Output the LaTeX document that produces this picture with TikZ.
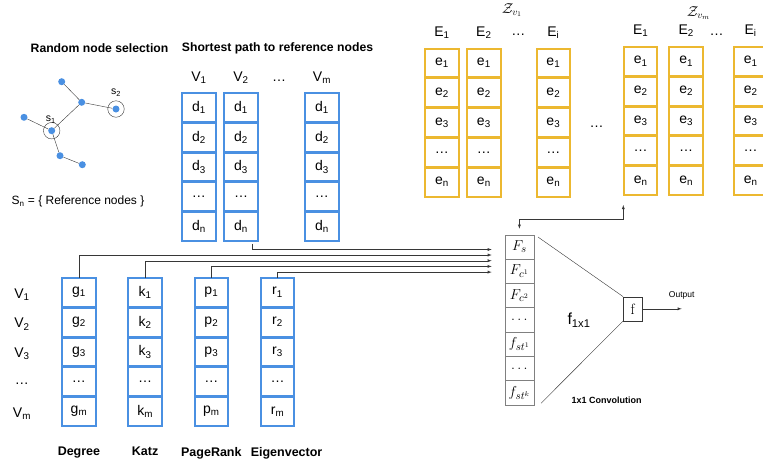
\documentclass[tikz,border=0pt]{standalone}
\usepackage{fontspec}
\setsansfont{Liberation Sans}
\usepackage{tikz}
\usetikzlibrary{matrix}
\usetikzlibrary{positioning}
\definecolor{blau}{RGB}{74,144,226}
\definecolor{gelb}{RGB}{236,184,48}
\definecolor{linie}{RGB}{55,55,55}
\newcommand{\ti}[1]{\textsubscript{#1}}
\tikzset{
  zelle/.style={draw, line width=2pt, minimum width=33.5pt, minimum height=28.8pt,
    inner sep=0pt, outer sep=0pt, anchor=center,
    font=\sffamily\fontsize{14}{16}\selectfont},
  dzelle/.style={zelle, draw=blau},   % blaue Kästchen
  ezelle/.style={zelle, draw=gelb},   % gelbe Kästchen
  fzelle/.style={draw=gray, thin, minimum width=29.4pt, minimum height=24.3pt,
    inner sep=0pt, outer sep=0pt, anchor=center, font=\fontsize{15}{17}\selectfont},
  spalte/.style={matrix of nodes, inner sep=0pt, row sep=-1pt, anchor=north west},
  kopf/.style={font=\sffamily\fontsize{14}{16}\selectfont, inner sep=0pt},
  titel/.style={font=\sffamily\bfseries\fontsize{12.2}{14}\selectfont, inner sep=0pt},
  utitel/.style={font=\sffamily\bfseries\fontsize{12.5}{14}\selectfont, inner sep=0pt},
  knoten/.style={circle, fill=blau, inner sep=0pt, minimum size=7pt},
  kreis/.style={circle, draw=linie, thin, inner sep=0pt, minimum size=16.5pt},
  kante/.style={draw=linie, thin},
  Pfeil/.style={draw=linie, thin, ->}
}

\begin{document}
\begin{tikzpicture}[x=1pt, y=-1pt, font=\sffamily,
>=latex % Pfeilspitzen
]
\useasboundingbox (0,0) rectangle (763,467);

%Graph
\node[titel] (gtitel) at (99.5,48) {Random node selection};
\node[knoten] (a) at (61.7,81.7) {};
\node[knoten] (b) at (81.7,102.3) {};
\node[knoten] (s2) at (116,109) {};
\node[knoten] (l) at (24,117.3) {};
\node[knoten] (s1) at (51.7,130.7) {};
\node[knoten] (u) at (60,155.7) {};
\node[knoten] (w) at (82.3,164.7) {};
\draw[kante] (a) -- (b) -- (s2);
\draw[kante] (b) -- (s1);
\draw[kante] (l) -- (s1) -- (u) -- (w);
\node[kreis] (k1) at (s1) {};
\node[kreis] (k2) at (s2) {};
\node[font=\sffamily\fontsize{10.5}{12}\selectfont, inner sep=0pt, above=-1pt of k1, xshift=-1pt] {s\ti{1}};
\node[font=\sffamily\fontsize{10.5}{12}\selectfont, inner sep=0pt, above=4pt of k2] {s\ti{2}};
\node[font=\sffamily\fontsize{12}{14}\selectfont, inner sep=0pt] (menge) at (78,201.7) {S\ti{n} = \{ Reference nodes \}};

%Kürzeste Wege
\node[titel] (dtitel) at (277.5,48.3) {Shortest path to reference nodes};
\matrix (D) [spalte, column sep=6.6pt, nodes={dzelle}] at (181,91.7) {
  d\ti{1} & d\ti{1} &[38.8pt] d\ti{1} \\
  d\ti{2} & d\ti{2} & d\ti{2} \\
  d\ti{3} & d\ti{3} & d\ti{3} \\
  \dots   & \dots   & \dots   \\
  d\ti{n} & d\ti{n} & d\ti{n} \\
};
\node[kopf, above=9pt of D-1-1] {V\ti{1}};
\node[kopf, above=9pt of D-1-2] {V\ti{2}};
\node[kopf, above=9pt of D-1-3] {V\ti{m}};
\node[kopf] (dpunkte) at (279,81) {\dots};

%Einbettungen
\matrix (EA) [spalte, column sep=6.4pt, nodes={ezelle}] at (424,47.3) {
  e\ti{1} & e\ti{1} &[27.6pt] e\ti{1} \\
  e\ti{2} & e\ti{2} & e\ti{2} \\
  e\ti{3} & e\ti{3} & e\ti{3} \\
  \dots   & \dots   & \dots   \\
  e\ti{n} & e\ti{n} & e\ti{n} \\
};
\matrix (EB) [spalte, column sep=10pt, nodes={ezelle}] at (622.7,45.7) {
  e\ti{1} & e\ti{1} &[19pt] e\ti{1} \\
  e\ti{2} & e\ti{2} & e\ti{2} \\
  e\ti{3} & e\ti{3} & e\ti{3} \\
  \dots   & \dots   & \dots   \\
  e\ti{n} & e\ti{n} & e\ti{n} \\
};
\foreach \m in {EA,EB}{
  \node[kopf, above=10pt of \m-1-1] {E\ti{1}};
  \node[kopf, above=10pt of \m-1-2] {E\ti{2}};
  \node[kopf, above=10pt of \m-1-3] {E\ti{i}};
}
\node[kopf] (eapunkte) at (518.3,34.3) {\dots};
\node[kopf] (ebpunkte) at (716.7,34.3) {\dots};
\node[kopf] (mpunkte) at (596.7,127) {\dots};
\node[font=\fontsize{14}{16}\selectfont, inner sep=0pt] (za) at (512,10) {$\mathcal{Z}_{v_1}$};
\node[font=\fontsize{14}{16}\selectfont, inner sep=0pt] (zb) at (698.5,13) {$\mathcal{Z}_{v_m}$};

%Zentralitäten
\matrix (G) [spalte, column sep=30.7pt, nodes={dzelle}] at (61,276.7) {
  g\ti{1} & k\ti{1} & p\ti{1} & r\ti{1} \\
  g\ti{2} & k\ti{2} & p\ti{2} & r\ti{2} \\
  g\ti{3} & k\ti{3} & p\ti{3} & r\ti{3} \\
  \dots   & \dots   & \dots   & \dots   \\
  g\ti{m} & k\ti{m} & p\ti{m} & r\ti{m} \\
};
\foreach \i/\t in {1/V\ti{1},2/V\ti{2},3/V\ti{3},4/\dots,5/V\ti{m}}
  \node[kopf] (zeile\i) at ([xshift=-57pt,yshift=-2pt]G-\i-1) {\t};
\node[utitel, below=21pt of G-5-1] {Degree};
\node[utitel, below=21pt of G-5-2] {Katz};
\node[utitel, below=21pt of G-5-3] {PageRank};
\node[utitel, below=21pt of G-5-4, xshift=9pt] {Eigenvector};

%Merkmale und Faltung
\matrix (F) [spalte, row sep=-0.4pt, nodes={fzelle}] at (504.3,234.3) {
  $F_s$ \\
  $F_{c^1}$ \\
  $F_{c^2}$ \\
  $\dots$ \\
  $f_{st^1}$ \\
  $\dots$ \\
  $f_{st^k}$ \\
};
\node[draw=linie, thin, minimum width=19pt, minimum height=24pt, inner sep=0pt,
  font=\rmfamily\fontsize{15}{17}\selectfont] (f) at (632.8,308.8) {f};
\node[font=\sffamily\fontsize{16}{18}\selectfont] (fconv) at (579,320) {f\ti{1x1}};
\node[font=\sffamily\bfseries\fontsize{9}{11}\selectfont] (conv) at (606.7,400) {1x1 Convolution};
\coordinate (aus) at (681.7,308.8);
\coordinate (rueck) at (623.3,205);

%Leitungen
\foreach \n/\y in {d/249.5,g/255,k/260.7,p/266.4,r/272.1}
  \coordinate (ein\n) at (491.7,\y);
\draw[Pfeil] ([xshift=11pt,yshift=-3pt]D-5-2.south) |- (eind);
\draw[Pfeil] (G-1-1.north) |- (eing);
\draw[Pfeil] (G-1-2.north) |- (eink);
\draw[Pfeil] (G-1-3.north) |- (einp);
\draw[Pfeil] (G-1-4.north) |- (einr);
\draw[kante] ([xshift=4pt,yshift=-2.4pt]F-1-1.north east) -- (f.north west);
\draw[kante] ([xshift=7pt,yshift=1.6pt]F-7-1.south east) -- (f.south west);
\draw[Pfeil] (f) -- (aus) node[above=9pt, inner sep=0pt, font=\sffamily\fontsize{8.5}{10}\selectfont] {Output};
\draw[Pfeil, <->] ([yshift=6pt]F-1-1.north) -- ++(0,-10) -| (rueck);

\end{tikzpicture}
\end{document}
